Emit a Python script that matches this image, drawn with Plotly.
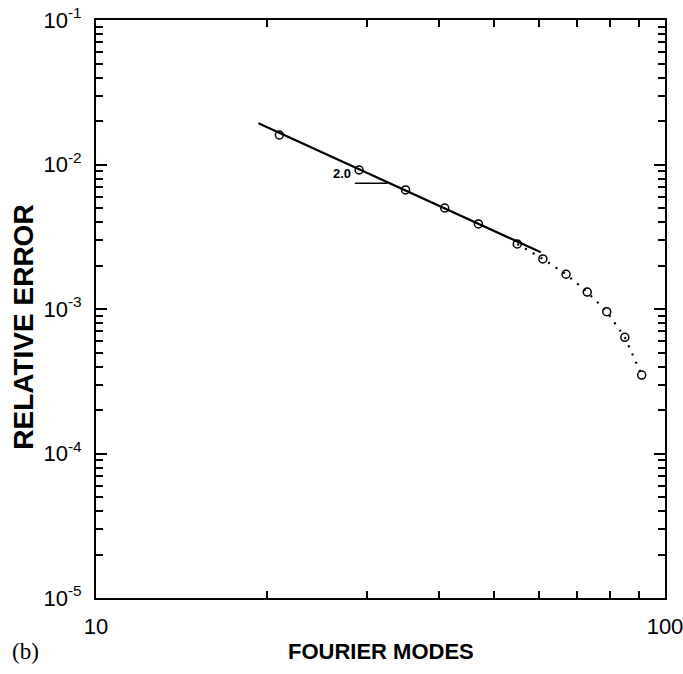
import math
import plotly.graph_objects as go

# Data
modes = [21, 29, 35, 41, 47, 55, 61, 67, 73, 79, 85, 91]
rel_error = [0.0160, 0.00916, 0.00667, 0.00500, 0.00388, 0.00282,
             0.00222, 0.00174, 0.00131, 0.000958, 0.000637, 0.000349]
fit_modes = [19.3, 60.5]
fit_error = [0.0193, 0.00247]
slope_modes = [28.5, 32.5]
slope_error = [0.00741, 0.00741]
slope_label = "2.0"

y_major = [1e-5, 1e-4, 1e-3, 1e-2, 1e-1]
y_major_text = ["10<sup>-5</sup>", "10<sup>-4</sup>", "10<sup>-3</sup>",
                "10<sup>-2</sup>", "10<sup>-1</sup>"]
y_minor = [m * d for d in [1e-5, 1e-4, 1e-3, 1e-2] for m in range(2, 10)]
x_major = [10, 100]
x_major_text = ["10", "100"]
x_minor = [20, 30, 40, 50, 60, 70, 80, 90]

font = "Liberation Sans, Arial, sans-serif"

fig = go.Figure()
dot_start = 5
fig.add_trace(go.Scatter(x=modes[dot_start:], y=rel_error[dot_start:], mode="lines",
                         line=dict(color="black", width=2.2, dash="2px,7px"),
                         showlegend=False, hoverinfo="skip"))
fig.add_trace(go.Scatter(x=fit_modes, y=fit_error, mode="lines",
                         line=dict(color="black", width=2.2), showlegend=False))
fig.add_trace(go.Scatter(x=slope_modes, y=slope_error, mode="lines",
                         line=dict(color="black", width=1.6), showlegend=False))
fig.add_trace(go.Scatter(x=modes, y=rel_error, mode="markers",
                         marker=dict(symbol="circle-open", size=8, color="black",
                                     line=dict(width=1.5, color="black")),
                         showlegend=False))

# log axes: annotation positions are given in log10 units
fig.add_annotation(x=math.log10(slope_modes[0]), y=math.log10(slope_error[0]),
                   text="<b>" + slope_label + "</b>",
                   showarrow=False, xanchor="right", yanchor="bottom", xshift=-2, yshift=0,
                   font=dict(family=font, size=13, color="black"))

fig.add_annotation(x=-0.152, y=-0.092, xref="paper", yref="paper", text="(b)", showarrow=False,
                   xanchor="left", yanchor="middle",
                   font=dict(family="Liberation Serif, Times New Roman, serif", size=23, color="black"))
fig.add_annotation(x=0.5, y=-0.092, xref="paper", yref="paper", text="<b>FOURIER MODES</b>",
                   showarrow=False, xanchor="center", yanchor="middle",
                   font=dict(family=font, size=22, color="black"))
fig.add_annotation(x=-0.128, y=0.468, xref="paper", yref="paper", text="<b>RELATIVE ERROR</b>",
                   showarrow=False, xanchor="center", yanchor="middle", textangle=-90,
                   font=dict(family=font, size=28, color="black"))

# Plot area at x 96..665, y 20..598 (page body margin removed below).
fig.update_layout(
    width=683, height=674,
    margin=dict(l=96, r=18, t=20, b=76, autoexpand=False),
    plot_bgcolor="white", paper_bgcolor="white",
    font=dict(family=font, color="black"),
    xaxis=dict(type="log", range=[1, 2], tickvals=x_major, ticktext=x_major_text,
               ticks="inside", ticklen=11, tickwidth=2, tickcolor="black",
               showline=True, linecolor="black", linewidth=2, mirror="allticks",
               showgrid=False, zeroline=False, tickfont=dict(size=22, family=font),
               ticklabelstandoff=8, ticklabeloverflow="allow", automargin=False,
               minor=dict(tickvals=x_minor, ticks="inside", ticklen=7, tickwidth=1.5,
                          tickcolor="black", showgrid=False)),
    yaxis=dict(type="log", range=[-5, -1], tickvals=y_major, ticktext=y_major_text,
               ticks="inside", ticklen=11, tickwidth=2, tickcolor="black",
               showline=True, linecolor="black", linewidth=2, mirror="allticks",
               showgrid=False, zeroline=False, tickfont=dict(size=22, family=font),
               ticklabelstandoff=8, ticklabeloverflow="allow", automargin=False,
               minor=dict(tickvals=y_minor, ticks="inside", ticklen=7, tickwidth=1.5,
                          tickcolor="black", showgrid=False)),
)

fig.write_html("out.html", config={"displayModeBar": False},
               post_script="document.body.style.margin='0';")
